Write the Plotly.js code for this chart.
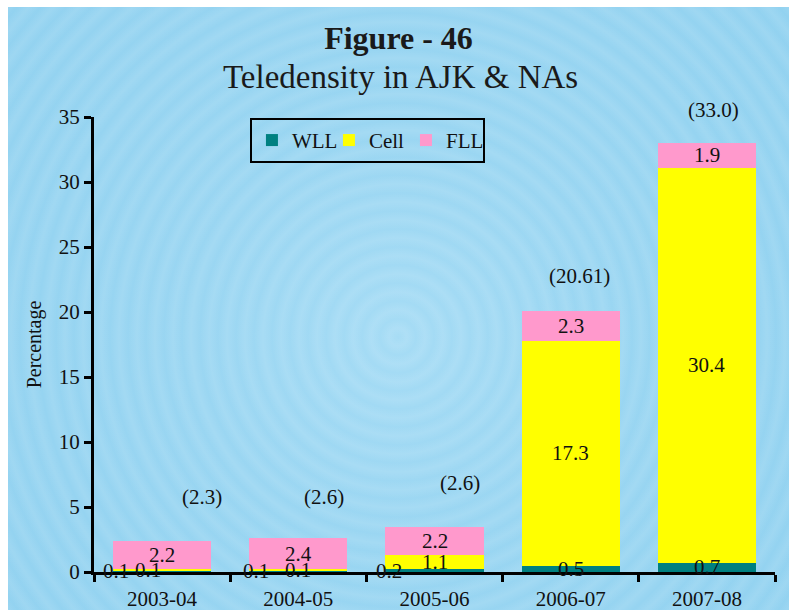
<!DOCTYPE html>
<html>
<head>
<meta charset="utf-8">
<script src="https://cdn.plot.ly/plotly-3.0.1.min.js"></script>
<style>
  html, body { margin: 0; padding: 0; background: #ffffff; width: 789px; height: 610px; overflow: hidden; }
  #chart {
    position: absolute; left: 8px; top: 7px; width: 781px; height: 603px;
    background:
      repeating-radial-gradient(circle at 390px 330px, rgba(255,255,255,0.0) 0px, rgba(255,255,255,0.10) 9px, rgba(255,255,255,0.0) 18px),
      radial-gradient(circle at 390px 330px, #a6dcf5 0%, #9ad6f2 40%, #92d2f0 100%);
  }
</style>
</head>
<body>
<div id="chart"></div>
<script>
// ---- data ----
const categories = ["2003-04", "2004-05", "2005-06", "2006-07", "2007-08"];
const wll  = [0.1, 0.1, 0.2, 0.5, 0.7];
const cell = [0.1, 0.1, 1.1, 17.3, 30.4];
const fll  = [2.2, 2.4, 2.2, 2.3, 1.9];
const totalLabels = ["(2.3)", "(2.6)", "(2.6)", "(20.61)", "(33.0)"];
const seriesNames = ["WLL", "Cell", "FLL"];

// ---- styling ----
const colors = ["#008080", "#ffff00", "#ff99cc"];
const FONT = "Liberation Serif, Times New Roman, serif";
const labelFont = {family: FONT, size: 21, color: "#111111"};

const series = [wll, cell, fll];
const traces = series.map((vals, i) => ({
  type: "bar",
  name: seriesNames[i],
  x: categories,
  y: vals,
  marker: {color: colors[i], line: {width: 0}},
  hoverinfo: "skip"
}));

// segment label shifts (label placement quirks of the original)
const wllShift = [-46, -42, -46, 0, 0];
const cellShift = [-14, 0, 0, 0, 0];
const totalXShift = [40, 26, 25, 9, 7];
const totalYShift = [44, 41, 44, 35, 33];

const annotations = [];
categories.forEach((c, j) => {
  let base = 0;
  series.forEach((vals, i) => {
    const v = vals[j];
    let xs = 0;
    if (i === 0) xs = wllShift[j];
    if (i === 1) xs = cellShift[j];
    annotations.push({
      x: c, y: base + v / 2, xref: "x", yref: "y",
      text: v.toFixed(1), showarrow: false, font: labelFont,
      xshift: xs, yanchor: "middle", xanchor: "center"
    });
    base += v;
  });
  annotations.push({
    x: c, y: base, xref: "x", yref: "y",
    text: totalLabels[j], showarrow: false, font: labelFont,
    xshift: totalXShift[j], yshift: totalYShift[j], yanchor: "middle", xanchor: "center"
  });
});

annotations.push({
  xref: "paper", yref: "paper", x: 0.45, y: 1.088, xanchor: "center", yanchor: "middle",
  text: "Teledensity in AJK &amp; NAs", showarrow: false,
  font: {family: FONT, size: 33, color: "#1a1a1a"}
});

const layout = {
  width: 781, height: 603,
  paper_bgcolor: "rgba(0,0,0,0)",
  plot_bgcolor: "rgba(0,0,0,0)",
  margin: {l: 86, r: 14, t: 110, b: 38},
  barmode: "stack",
  bargap: 0.28,
  showlegend: true,
  title: {
    text: "<b>Figure - 46</b>",
    x: 0.5, xanchor: "center", y: 0.949, yanchor: "middle",
    font: {family: FONT, size: 32, color: "#1a1a1a"}
  },
  legend: {
    orientation: "h", traceorder: "normal",
    x: 0.229, y: 0.998, xanchor: "left", yanchor: "top",
    bgcolor: "rgba(0,0,0,0)", bordercolor: "#000000", borderwidth: 2,
    font: {family: FONT, size: 21, color: "#111111"},
    itemwidth: 30, entrywidth: 32, entrywidthmode: "pixels"
  },
  xaxis: {
    type: "category",
    showline: true, linecolor: "#000000", linewidth: 3,
    ticks: "outside", tickson: "boundaries", ticklen: 7, tickwidth: 3, tickcolor: "#000000",
    ticklabelstandoff: 6,
    tickfont: {family: FONT, size: 21, color: "#111111"},
    showgrid: false, zeroline: false, fixedrange: true
  },
  yaxis: {
    range: [0, 35], dtick: 5, tick0: 0,
    showline: true, linecolor: "#000000", linewidth: 3,
    ticks: "outside", ticklen: 7, tickwidth: 3, tickcolor: "#000000",
    tickfont: {family: FONT, size: 21, color: "#111111"},
    showgrid: false, zeroline: false, fixedrange: true,
    title: {text: "Percentage", font: {family: FONT, size: 20, color: "#111111"}, standoff: 12}
  },
  annotations: annotations
};

Plotly.newPlot("chart", traces, layout, {displayModeBar: false, staticPlot: true});
</script>
</body>
</html>
